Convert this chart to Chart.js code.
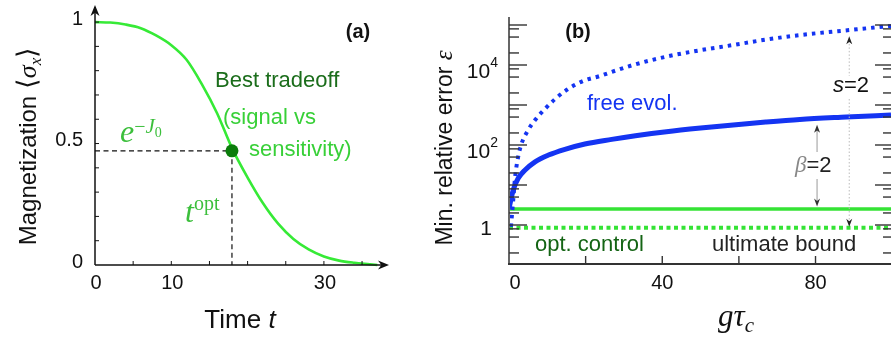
<!DOCTYPE html>
<html>
<head>
<meta charset="utf-8">
<script src="https://cdn.jsdelivr.net/npm/chart.js@4.4.0/dist/chart.umd.min.js"></script>
<style>
  html, body { margin: 0; padding: 0; background: #fff; }
  #wrap { position: relative; width: 891px; height: 343px; overflow: hidden; }
  .box { position: absolute; top: 0; height: 343px; }
  #boxA { left: 0; width: 420px; }
  #boxB { left: 420px; width: 471px; }
</style>
</head>
<body>
<div id="wrap">
  <div class="box" id="boxA"><canvas id="chartA" width="420" height="343"></canvas></div>
  <div class="box" id="boxB"><canvas id="chartB" width="471" height="343"></canvas></div>
</div>
<script>
// panel (a): magnetization decay
const timeA = [0, 2, 4, 6, 8, 10, 12, 14, 16, 18, 20, 22, 24, 26, 28, 30, 32, 34, 36, 37];
const magA = [1.0, 0.998, 0.99, 0.975, 0.945, 0.905, 0.845, 0.745, 0.625, 0.478, 0.36, 0.255, 0.17, 0.107, 0.064, 0.035, 0.018, 0.009, 0.003, 0.0];
const tOpt = 17.95;
const magOpt = 0.47;
const xTicksA = [5, 10, 15, 20, 25, 30, 35];
const xLabelsA = [0, 10, 30];
const yTicksA = [0.1, 0.2, 0.3, 0.4, 0.5, 0.6, 0.7, 0.8, 0.9, 1.0];
const yLabelsA = [0, 0.5, 1];

// panel (b): minimal relative error vs g*tau_c
const gTauSolid = [0, 1.1, 2.4, 4.2, 6.8, 10.3, 14.6, 19.8, 26.8, 33, 41.1, 50, 58.5, 67, 75.9, 88, 99.7];
const freeSolid = [2.6, 7.5, 14.7, 23.7, 38, 56, 78, 106, 138, 170, 215, 265, 316, 375, 437, 500, 562];
const gTauDotted = [0.5, 1.1, 1.6, 2.4, 3.3, 5.0, 6.8, 9.4, 12, 15.1, 19.4, 23.7, 28.1, 32.4, 41.1, 50, 58.5, 67, 75.9, 89, 99.7];
const freeDotted = [0.9, 4.2, 16, 51, 110, 237, 420, 800, 1400, 2400, 4000, 5300, 7400, 10000, 16200, 23500, 31600, 43000, 56000, 75000, 95000];
const gTauFlat = [0, 100];
const optControl = [2.5, 2.5];
const ultimateBound = [0.85, 0.85];
const betaArrow = { x: 80.4, from: 2.9, to: 320 };
const sArrow = { x: 88.8, from: 0.9, to: 52000 };
const xTicksB = [20, 40, 60, 80];
const xLabelsB = [0, 40, 80];
const yLabelExpB = [0, 2, 4];

const SANS = '"Liberation Sans", Arial, sans-serif';
const SERIF = '"Liberation Serif", "Times New Roman", serif';
const green = '#36ea36';
const blue = '#1434f2';

function pts(xs, ys) {
  return xs.map((x, i) => ({ x: x, y: ys[i] }));
}

function richText(ctx, parts, x, y, align) {
  let w = 0;
  parts.forEach(p => { ctx.font = p[1]; w += ctx.measureText(p[0]).width; });
  let cx = align === 'center' ? x - w / 2 : (align === 'right' ? x - w : x);
  ctx.textAlign = 'left';
  ctx.textBaseline = 'alphabetic';
  parts.forEach(p => {
    ctx.font = p[1];
    ctx.fillStyle = p[3] || '#111';
    ctx.fillText(p[0], cx, y + (p[2] || 0));
    cx += ctx.measureText(p[0]).width;
  });
}

function seg(ctx, x1, y1, x2, y2) {
  ctx.beginPath();
  ctx.moveTo(x1, y1);
  ctx.lineTo(x2, y2);
  ctx.stroke();
}

function arrowHead(ctx, x, y, ang, len, half) {
  ctx.save();
  ctx.translate(x, y);
  ctx.rotate(ang);
  ctx.beginPath();
  ctx.moveTo(0, 0);
  ctx.lineTo(-len, -half);
  ctx.lineTo(-len * 0.7, 0);
  ctx.lineTo(-len, half);
  ctx.closePath();
  ctx.fill();
  ctx.restore();
}

const panelA = {
  id: 'panelA',
  beforeDatasetsDraw(chart) {
    const { ctx, scales: { x, y } } = chart;
    const px = x.getPixelForValue(tOpt), py = y.getPixelForValue(magOpt);
    ctx.save();
    ctx.strokeStyle = '#111';
    ctx.lineWidth = 1.2;
    ctx.setLineDash([5, 3.5]);
    seg(ctx, x.getPixelForValue(0), py, px, py);
    seg(ctx, px, py, px, y.getPixelForValue(0));
    ctx.restore();
  },
  afterDraw(chart) {
    const { ctx, chartArea: a, scales: { x, y } } = chart;
    const x0 = x.getPixelForValue(0), y0 = y.getPixelForValue(0);
    ctx.save();
    ctx.strokeStyle = '#111';
    ctx.fillStyle = '#111';
    ctx.lineWidth = 1.5;
    seg(ctx, x0, y0, x0, a.top - 1);
    seg(ctx, x0, y0, a.right - 4, y0);
    arrowHead(ctx, x0, a.top - 3, -Math.PI / 2, 11, 4.5);
    arrowHead(ctx, a.right + 1, y0, 0, 11, 4.5);
    ctx.lineWidth = 1;
    yTicksA.forEach(v => { const p = y.getPixelForValue(v); seg(ctx, x0, p, x0 + 4, p); });
    xTicksA.forEach(v => { const p = x.getPixelForValue(v); seg(ctx, p, y0, p, y0 - 4); });

    ctx.font = '20px ' + SANS;
    ctx.fillStyle = '#111';
    ctx.textBaseline = 'middle';
    ctx.textAlign = 'right';
    // top label sits a bit higher, next to the axis arrow
    yLabelsA.forEach(v => ctx.fillText(String(v), x0 - 12, Math.max(y.getPixelForValue(v) - 3, 14)));
    ctx.textAlign = 'center';
    xLabelsA.forEach(v => ctx.fillText(String(v), x.getPixelForValue(v) + 1, 283));

    // axis titles
    richText(ctx, [['Time ', '26px ' + SANS], ['t', 'italic 26px ' + SANS]], 240, 328, 'center');
    ctx.save();
    ctx.translate(36, 146);
    ctx.rotate(-Math.PI / 2);
    richText(ctx, [
      ['Magnetization ', '24px ' + SANS],
      ['\u27E8', '27px ' + SERIF],
      ['\u03C3', 'italic 26px ' + SERIF],
      ['x', 'italic 17px ' + SERIF, 5],
      ['\u27E9', '27px ' + SERIF]
    ], 0, 0, 'center');
    ctx.restore();

    // annotations
    ctx.font = 'bold 20px ' + SANS;
    ctx.textAlign = 'center';
    ctx.textBaseline = 'middle';
    ctx.fillStyle = '#111';
    ctx.fillText('(a)', 358, 32);
    richText(ctx, [['Best tradeoff', '22px ' + SANS, 0, '#1b6d1b']], 215, 87, 'left');
    richText(ctx, [['(signal vs', '22px ' + SANS, 0, '#38d038']], 223, 124, 'left');
    richText(ctx, [['sensitivity)', '22px ' + SANS, 0, '#38d038']], 249, 156, 'left');
    const mg = '#3cbf3c';
    richText(ctx, [
      ['e', 'italic 32px ' + SERIF, 0, mg],
      ['\u2212', '20px ' + SERIF, -9, mg],
      ['J', 'italic 21px ' + SERIF, -9, mg],
      ['0', '14px ' + SERIF, -5, mg]
    ], 120, 142, 'left');
    richText(ctx, [
      ['t', 'italic 32px ' + SERIF, 0, mg],
      ['opt', '20px ' + SERIF, -12, mg]
    ], 185, 222, 'left');
    ctx.restore();
  }
};

const panelB = {
  id: 'panelB',
  afterDraw(chart) {
    const { ctx, chartArea: a, scales: { x, y } } = chart;
    const OX = 420;
    ctx.save();
    // axis frame
    ctx.strokeStyle = '#666';
    ctx.lineWidth = 2;
    seg(ctx, a.left, a.top, a.left, a.bottom);
    ctx.strokeStyle = '#333';
    seg(ctx, a.left - 1, a.bottom, a.right, a.bottom);

    // log ticks on both sides
    ctx.strokeStyle = '#333';
    ctx.lineWidth = 1.4;
    for (let k = -1; k <= 5; k++) {
      [1, 2, 5, 8].forEach(m => {
        const v = m * Math.pow(10, k);
        if (v <= y.min || v >= y.max) return;
        const p = y.getPixelForValue(v);
        const major = m === 1;
        seg(ctx, a.left, p, a.left + (major ? 18 : 10), p);
        seg(ctx, a.right - (major ? 16 : 8), p, a.right, p);
      });
    }
    xTicksB.forEach(v => { const p = x.getPixelForValue(v); seg(ctx, p, a.bottom, p, a.bottom - 8); });

    // tick labels
    ctx.font = '20px ' + SANS;
    ctx.fillStyle = '#111';
    ctx.textAlign = 'center';
    ctx.textBaseline = 'middle';
    xLabelsB.forEach(v => ctx.fillText(String(v), x.getPixelForValue(v) + (v === 0 ? 6 : 0), 283));
    yLabelExpB.forEach(e => {
      const p = y.getPixelForValue(Math.pow(10, e));
      if (e === 0) {
        richText(ctx, [['1', '21px ' + SANS]], 492 - OX, p + 9.5, 'right');
      } else {
        richText(ctx, [['10', '21px ' + SANS], [String(e), '14px ' + SANS, -11]], 498 - OX, p + 12.5, 'right');
      }
    });

    // axis titles
    richText(ctx, [
      ['g', 'italic 31px ' + SERIF],
      ['\u03C4', 'italic 31px ' + SERIF],
      ['c', 'italic 21px ' + SERIF, 6]
    ], 736 - OX, 326, 'center');
    ctx.save();
    ctx.translate(452 - OX, 148);
    ctx.rotate(-Math.PI / 2);
    richText(ctx, [['Min. relative error ', '23px ' + SANS], ['\u03B5', 'italic 25px ' + SERIF]], 0, 0, 'center');
    ctx.restore();

    // beta arrow
    const bx = x.getPixelForValue(betaArrow.x);
    const bTop = y.getPixelForValue(betaArrow.to), bBot = y.getPixelForValue(betaArrow.from);
    ctx.strokeStyle = '#999';
    ctx.fillStyle = '#333';
    ctx.lineWidth = 1;
    seg(ctx, bx, bTop + 4, bx, 152);
    seg(ctx, bx, 179, bx, bBot - 4);
    arrowHead(ctx, bx, bTop, -Math.PI / 2, 8, 3);
    arrowHead(ctx, bx, bBot, Math.PI / 2, 8, 3);
    richText(ctx, [['\u03B2', 'italic 23px ' + SERIF, 0, '#888'], ['=2', '22px ' + SANS, 0, '#222']], 795 - OX, 172, 'left');

    // s arrow
    const sx = x.getPixelForValue(sArrow.x);
    const sTop = y.getPixelForValue(sArrow.to), sBot = y.getPixelForValue(sArrow.from);
    ctx.strokeStyle = '#bbb';
    ctx.setLineDash([1.5, 2]);
    seg(ctx, sx, sTop + 4, sx, 76);
    seg(ctx, sx, 99, sx, sBot - 4);
    ctx.setLineDash([]);
    ctx.fillStyle = '#222';
    arrowHead(ctx, sx, sTop, -Math.PI / 2, 8, 3);
    arrowHead(ctx, sx, sBot, Math.PI / 2, 8, 3);
    richText(ctx, [['s', 'italic 22px ' + SANS, 0, '#111'], ['=2', '22px ' + SANS, 0, '#111']], 833 - OX, 92, 'left');

    // labels
    ctx.font = 'bold 20px ' + SANS;
    ctx.fillStyle = '#111';
    ctx.textAlign = 'center';
    ctx.textBaseline = 'middle';
    ctx.fillText('(b)', 578 - OX, 32);
    richText(ctx, [['free evol.', '22px ' + SANS, 0, blue]], 587 - OX, 110, 'left');
    richText(ctx, [['opt. control', '22px ' + SANS, 0, '#146414']], 535 - OX, 251, 'left');
    richText(ctx, [['ultimate bound', '22px ' + SANS, 0, '#222']], 712 - OX, 251, 'left');
    ctx.restore();
  }
};

new Chart(document.getElementById('chartA'), {
  type: 'line',
  data: {
    datasets: [
      {
        type: 'scatter',
        data: [{ x: tOpt, y: magOpt }],
        pointRadius: 6.5,
        backgroundColor: '#0b7d0b',
        borderWidth: 0
      },
      {
        data: pts(timeA, magA),
        borderColor: green,
        borderWidth: 2.6,
        pointRadius: 0,
        cubicInterpolationMode: 'monotone',
        fill: false,
        clip: false
      }
    ]
  },
  options: {
    responsive: false,
    animation: false,
    events: [],
    layout: { padding: { left: 95, right: 32, top: 8, bottom: 78 } },
    plugins: { legend: { display: false }, tooltip: { enabled: false } },
    scales: {
      x: { type: 'linear', min: 0, max: 38.4, display: false },
      y: { type: 'linear', min: 0, max: 1.058, display: false }
    }
  },
  plugins: [panelA]
});

new Chart(document.getElementById('chartB'), {
  type: 'line',
  data: {
    datasets: [
      {
        data: pts(gTauSolid, freeSolid),
        borderColor: blue,
        borderWidth: 5,
        pointRadius: 0,
        cubicInterpolationMode: 'monotone'
      },
      {
        data: pts(gTauDotted, freeDotted),
        borderColor: blue,
        borderWidth: 4,
        borderDash: [3.5, 5],
        pointRadius: 0,
        cubicInterpolationMode: 'monotone'
      },
      {
        data: pts(gTauFlat, optControl),
        borderColor: '#35e335',
        borderWidth: 3.5,
        pointRadius: 0
      },
      {
        data: pts(gTauFlat, ultimateBound),
        borderColor: '#35e335',
        borderWidth: 4,
        borderDash: [4, 3.5],
        pointRadius: 0
      }
    ]
  },
  options: {
    responsive: false,
    animation: false,
    events: [],
    layout: { padding: { left: 89, right: 0, top: 17, bottom: 79 } },
    plugins: { legend: { display: false }, tooltip: { enabled: false } },
    scales: {
      x: { type: 'linear', min: 0, max: 99.7, display: false },
      y: { type: 'logarithmic', min: Math.pow(10, -0.975), max: Math.pow(10, 5.2), display: false }
    }
  },
  plugins: [panelB]
});
</script>
</body>
</html>
